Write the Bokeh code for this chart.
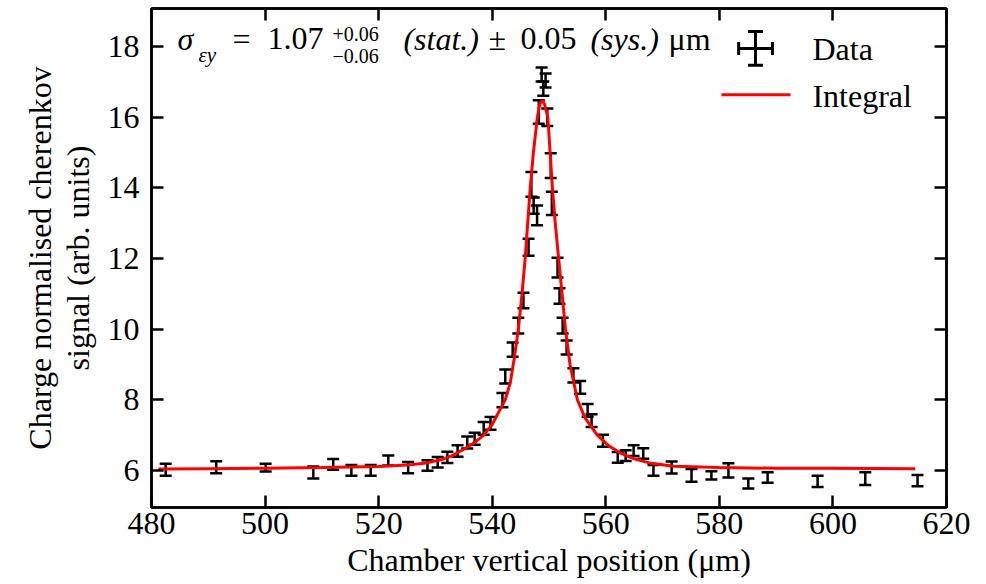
from bokeh.plotting import figure
from bokeh.models import Range1d, LinearAxis, FixedTicker, Label
from bokeh.embed import file_html
from bokeh.resources import INLINE

# ---------------- data ----------------
position = [482.5, 491.4, 500.1, 508.5, 512.0, 515.2, 518.6, 521.7, 525.2, 528.6,
            530.4, 532.1, 533.9, 535.6, 536.9, 538.5, 539.7, 541.8, 542.3, 543.6,
            544.6, 545.5, 546.4, 546.9, 547.3, 547.9, 548.2, 548.7, 549.0, 549.4,
            549.7, 550.3, 550.5, 551.5, 551.85, 552.4, 553.1, 554.3, 555.5, 556.8,
            557.5, 559.5, 562.1, 563.5, 564.9, 566.6, 568.4, 571.6, 575.1, 578.6,
            581.6, 585.1, 588.5, 597.3, 605.7, 614.9]
signal = [6.02, 6.09, 6.08, 5.94, 6.17, 6.00, 6.00, 6.28, 6.08, 6.14,
          6.23, 6.37, 6.55, 6.79, 6.90, 7.19, 7.33, 7.99, 8.66, 9.42,
          10.10, 10.81, 12.32, 14.10, 13.50, 13.22, 16.15, 17.21, 16.81, 17.04,
          16.00, 14.63, 13.56, 11.74, 10.94, 10.10, 9.48, 8.69, 8.35, 7.70,
          7.41, 6.84, 6.37, 6.42, 6.56, 6.48, 6.00, 6.08, 5.86, 5.86,
          6.00, 5.63, 5.80, 5.69, 5.77, 5.71]
signal_err = [0.17, 0.17, 0.11, 0.17, 0.15, 0.15, 0.15, 0.14, 0.16, 0.15,
              0.15, 0.16, 0.16, 0.17, 0.17, 0.18, 0.18, 0.20, 0.20, 0.20,
              0.22, 0.22, 0.24, 0.35, 0.23, 0.28, 0.33, 0.20, 0.20, 0.20,
              0.25, 0.35, 0.33, 0.28, 0.22, 0.22, 0.20, 0.20, 0.18, 0.18,
              0.18, 0.17, 0.15, 0.15, 0.15, 0.15, 0.15, 0.17, 0.18, 0.12,
              0.20, 0.14, 0.15, 0.16, 0.18, 0.16]

integral_x = [481.2, 490, 500, 510, 520, 525, 528, 531, 533, 535,
              537, 538.5, 540, 541.3, 542.3, 543.2, 543.9, 544.6, 545.25, 545.8,
              546.25, 546.7, 547.25, 547.95, 548.4, 548.8, 549.2, 549.8, 550.2, 550.6,
              551.1, 551.7, 552.3, 552.9, 553.7, 555.0, 556.3, 558.5, 560.5, 562.5,
              565, 568, 572, 580, 590, 600, 614.5]
integral_y = [6.04, 6.05, 6.06, 6.08, 6.11, 6.15, 6.20, 6.30, 6.42, 6.60,
              6.80, 7.00, 7.30, 7.70, 8.00, 8.50, 9.20, 10.0, 11.0, 12.0,
              13.0, 14.0, 15.0, 16.0, 16.38, 16.48, 16.38, 16.0, 15.0, 14.0,
              13.0, 12.0, 11.0, 10.0, 9.0, 8.0, 7.5, 7.0, 6.7, 6.5,
              6.33, 6.2, 6.12, 6.08, 6.06, 6.06, 6.05]

x_ticks = [480, 500, 520, 540, 560, 580, 600, 620]
y_ticks = [6, 8, 10, 12, 14, 16, 18]

FONT = "Liberation Serif"
FS = "32px"

lower = [s - e for s, e in zip(signal, signal_err)]
upper = [s + e for s, e in zip(signal, signal_err)]

p = figure(width=986, height=584, output_backend="svg", toolbar_location=None,
           x_range=Range1d(480, 620), y_range=Range1d(4.95, 19.08),
           min_border_left=151, min_border_right=40, min_border_top=8,
           min_border_bottom=77, background_fill_color="white",
           border_fill_color="white")
p.grid.visible = False
p.outline_line_color = "black"
p.outline_line_width = 2.5

# error bars
p.segment(x0=position, y0=lower, x1=position, y1=upper, line_color="black", line_width=2.5)
p.scatter(x=position + position, y=lower + upper, marker="dash", size=12,
          line_color="black", line_width=2.5)

# integral curve
p.line(integral_x, integral_y, line_color="#ff0000", line_width=3)

# axes
p.xaxis.axis_label = "Chamber vertical position (\u03bcm)"
p.yaxis.axis_label = "Charge normalised cherenkov\nsignal (arb. units)"
p.xaxis.ticker = FixedTicker(ticks=x_ticks)
p.yaxis.ticker = FixedTicker(ticks=y_ticks)
p.add_layout(LinearAxis(ticker=FixedTicker(ticks=x_ticks)), "above")
p.add_layout(LinearAxis(ticker=FixedTicker(ticks=y_ticks)), "right")
for ax in p.axis:
    ax.major_tick_in = 12
    ax.major_tick_out = 0
    ax.minor_tick_in = 0
    ax.minor_tick_out = 0
    ax.major_tick_line_width = 2.5
    ax.axis_line_width = 2.5
    ax.major_label_text_font = FONT
    ax.major_label_text_font_size = FS
    ax.major_label_text_color = "black"
    ax.axis_label_text_font = FONT
    ax.axis_label_text_font_size = FS
    ax.axis_label_text_font_style = "normal"
    ax.axis_label_text_color = "black"
    ax.axis_label_text_line_height = 1.03
for ax in p.above + p.right:
    ax.major_label_text_font_size = "1px"
    ax.major_label_text_color = None
    ax.major_label_standoff = 0
p.xaxis[0].major_label_standoff = 3
p.xaxis[0].axis_label_standoff = 4
p.yaxis[0].major_label_standoff = 12
p.yaxis[0].axis_label_standoff = 9

# annotation text
def lab(x, y, t, size=FS, style="normal"):
    p.add_layout(Label(x=x, y=y, text=t, text_font=FONT, text_font_size=size,
                       text_font_style=style, text_color="black",
                       text_baseline="alphabetic", text_align="left"))

lab(484.58, 18.23, "\u03c3", style="italic")
lab(488.28, 17.77, "\u03b5y", size="21px", style="italic")
lab(494.26, 18.23, "=")
lab(500.43, 18.23, "1.07")
lab(511.87, 18.35, "+0.06", size="20px")
lab(511.87, 17.73, "\u22120.06", size="20px")
lab(524.37, 18.23, "(stat.)", style="italic")
lab(539.34, 18.23, "\u00b1")
lab(544.98, 18.23, "0.05")
lab(557.30, 18.23, "(sys.)", style="italic")
lab(571.04, 18.23, "\u03bcm")

# legend
p.segment(x0=[583.4], y0=[17.95], x1=[589.35], y1=[17.95], line_color="black", line_width=3)
p.segment(x0=[586.36], y0=[17.47], x1=[586.36], y1=[18.43], line_color="black", line_width=3)
p.scatter(x=[586.36, 586.36], y=[17.47, 18.43], marker="dash", size=15, line_color="black", line_width=3)
p.scatter(x=[583.4, 589.35], y=[17.95, 17.95], marker="dash", angle=1.5708, size=13,
          line_color="black", line_width=3)
lab(596.39, 17.92, "Data")
p.segment(x0=[580.37], y0=[16.64], x1=[592.52], y1=[16.64], line_color="#ff0000", line_width=3)
lab(596.39, 16.61, "Integral")

open("out.html", "w").write(file_html(p, INLINE))
